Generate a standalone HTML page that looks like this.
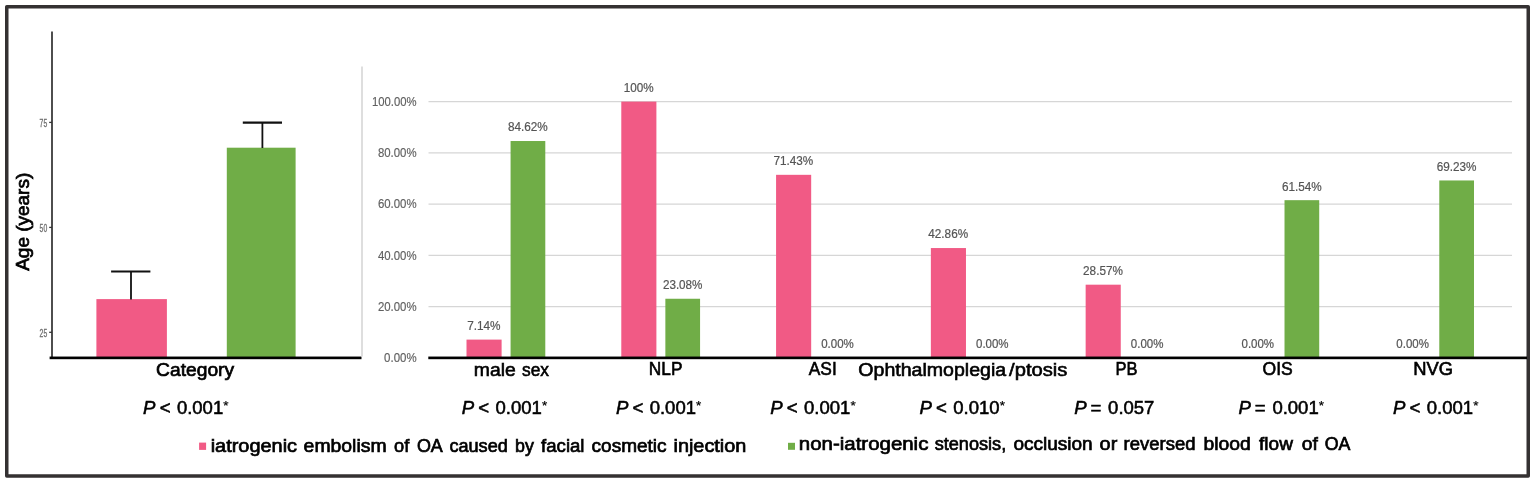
<!DOCTYPE html><html><head><meta charset="utf-8"><title>Figure</title><style>
html,body{margin:0;padding:0;background:#fff;}body{width:1535px;height:483px;overflow:hidden;font-family:"Liberation Sans",sans-serif;}svg{display:block;}
.ax{font-family:"Liberation Sans",sans-serif;font-size:12.3px;fill:#606060;stroke:#606060;stroke-width:.15px;}
.dl{font-family:"Liberation Sans",sans-serif;font-size:12.2px;fill:#555;stroke:#555;stroke-width:.2px;}
.xl{font-family:"Liberation Sans",sans-serif;fill:#000;stroke:#000;stroke-width:.6px;}
.pv{font-family:"Liberation Sans",sans-serif;font-size:18.6px;fill:#000;stroke:#000;stroke-width:.55px;}
.lg{font-family:"Liberation Sans",sans-serif;font-size:18.7px;fill:#000;stroke:#000;stroke-width:.7px;}
.tk{font-family:"Liberation Sans",sans-serif;font-size:10.5px;fill:#6e6e6e;stroke:#6e6e6e;stroke-width:.3px;}
</style></head><body>
<svg width="1535" height="483" viewBox="0 0 1535 483">
<rect x="0" y="0" width="1535" height="483" fill="#fff"/>
<rect x="6.75" y="6.75" width="1521.5" height="469.2" fill="none" stroke="#343132" stroke-width="3.5" stroke-linejoin="round"/>
<line x1="52" y1="31.6" x2="52" y2="357" stroke="#3a3a3a" stroke-width="1.8"/>
<line x1="49.2" y1="122.4" x2="52" y2="122.4" stroke="#333" stroke-width="1.3"/>
<text class="tk" x="39.6" y="126.7" textLength="7.6" lengthAdjust="spacingAndGlyphs">75</text>
<line x1="49.2" y1="227.4" x2="52" y2="227.4" stroke="#333" stroke-width="1.3"/>
<text class="tk" x="39.6" y="231.7" textLength="7.6" lengthAdjust="spacingAndGlyphs">50</text>
<line x1="49.2" y1="332.3" x2="52" y2="332.3" stroke="#333" stroke-width="1.3"/>
<text class="tk" x="39.6" y="336.6" textLength="7.6" lengthAdjust="spacingAndGlyphs">25</text>
<rect x="96.4" y="299.1" width="70.5" height="58" fill="#F15A85"/>
<rect x="226.8" y="147.7" width="68.8" height="209.5" fill="#70AD47"/>
<line x1="131" y1="271.5" x2="131" y2="299.5" stroke="#111" stroke-width="1.8"/>
<line x1="111.1" y1="271.5" x2="150.4" y2="271.5" stroke="#111" stroke-width="2.2"/>
<line x1="262.4" y1="122.7" x2="262.4" y2="148" stroke="#111" stroke-width="1.8"/>
<line x1="242.8" y1="122.7" x2="282" y2="122.7" stroke="#111" stroke-width="2.2"/>
<rect x="49.6" y="356.55" width="311.9" height="2.65" fill="#000"/>
<text x="156.1" y="375.6" textLength="78" lengthAdjust="spacingAndGlyphs" style="font-family:'Liberation Sans',sans-serif;font-size:18.4px;fill:#000;stroke:#000;stroke-width:.7px">Category</text>
<text transform="translate(29.3,270.8) rotate(-90)" textLength="98" lengthAdjust="spacingAndGlyphs" style="font-family:'Liberation Sans',sans-serif;font-size:17.7px;fill:#000;stroke:#000;stroke-width:.7px">Age (years)</text>
<text class="pv" y="413.6"><tspan x="143.1" font-style="italic">P</tspan> <tspan x="159.7">&lt;</tspan> <tspan x="176.9" textLength="46.3" lengthAdjust="spacingAndGlyphs">0.001</tspan><tspan x="223.3" dy="-4.1" font-size="13.5px" stroke-width=".2">*</tspan></text>
<line x1="362" y1="66.6" x2="362" y2="356.4" stroke="#d9d9d9" stroke-width="1.7"/>
<line x1="428.5" y1="101.60" x2="1512.0" y2="101.60" stroke="#d6d6d6" stroke-width="1.25"/>
<line x1="428.5" y1="152.86" x2="1512.0" y2="152.86" stroke="#d6d6d6" stroke-width="1.25"/>
<line x1="428.5" y1="204.12" x2="1512.0" y2="204.12" stroke="#d6d6d6" stroke-width="1.25"/>
<line x1="428.5" y1="255.38" x2="1512.0" y2="255.38" stroke="#d6d6d6" stroke-width="1.25"/>
<line x1="428.5" y1="306.64" x2="1512.0" y2="306.64" stroke="#d6d6d6" stroke-width="1.25"/>
<text class="ax" x="372.0" y="105.7" textLength="44.6" lengthAdjust="spacingAndGlyphs">100.00%</text>
<text class="ax" x="377.9" y="157.0" textLength="38.7" lengthAdjust="spacingAndGlyphs">80.00%</text>
<text class="ax" x="377.9" y="208.2" textLength="38.7" lengthAdjust="spacingAndGlyphs">60.00%</text>
<text class="ax" x="377.9" y="259.5" textLength="38.7" lengthAdjust="spacingAndGlyphs">40.00%</text>
<text class="ax" x="377.9" y="310.7" textLength="38.7" lengthAdjust="spacingAndGlyphs">20.00%</text>
<text class="ax" x="384.1" y="362.0" textLength="32.5" lengthAdjust="spacingAndGlyphs">0.00%</text>
<rect x="466.50" y="339.60" width="35.11" height="18.30" fill="#F15A85"/>
<rect x="510.58" y="141.02" width="34.71" height="216.88" fill="#70AD47"/>
<text class="dl" x="467.2" y="329.9" textLength="33.4" lengthAdjust="spacingAndGlyphs">7.14%</text>
<text class="dl" x="508.0" y="131.3" textLength="39.8" lengthAdjust="spacingAndGlyphs">84.62%</text>
<rect x="621.29" y="101.60" width="35.11" height="256.30" fill="#F15A85"/>
<rect x="665.36" y="298.75" width="34.71" height="59.15" fill="#70AD47"/>
<text class="dl" x="623.7" y="91.9" textLength="29.9" lengthAdjust="spacingAndGlyphs">100%</text>
<text class="dl" x="662.9" y="289.0" textLength="39.6" lengthAdjust="spacingAndGlyphs">23.08%</text>
<rect x="776.07" y="174.82" width="35.11" height="183.08" fill="#F15A85"/>
<text class="dl" x="773.5" y="165.1" textLength="39.8" lengthAdjust="spacingAndGlyphs">71.43%</text>
<text class="dl" x="821.2" y="348.2" textLength="32.6" lengthAdjust="spacingAndGlyphs">0.00%</text>
<rect x="930.86" y="248.05" width="35.11" height="109.85" fill="#F15A85"/>
<text class="dl" x="928.3" y="238.3" textLength="39.8" lengthAdjust="spacingAndGlyphs">42.86%</text>
<text class="dl" x="976.0" y="348.2" textLength="32.6" lengthAdjust="spacingAndGlyphs">0.00%</text>
<rect x="1085.65" y="284.68" width="35.11" height="73.22" fill="#F15A85"/>
<text class="dl" x="1083.1" y="275.0" textLength="39.8" lengthAdjust="spacingAndGlyphs">28.57%</text>
<text class="dl" x="1130.8" y="348.2" textLength="32.6" lengthAdjust="spacingAndGlyphs">0.00%</text>
<rect x="1284.51" y="200.17" width="34.71" height="157.73" fill="#70AD47"/>
<text class="dl" x="1241.5" y="348.2" textLength="32.6" lengthAdjust="spacingAndGlyphs">0.00%</text>
<text class="dl" x="1282.0" y="190.5" textLength="39.8" lengthAdjust="spacingAndGlyphs">61.54%</text>
<rect x="1439.29" y="180.46" width="34.71" height="177.44" fill="#70AD47"/>
<text class="dl" x="1396.3" y="348.2" textLength="32.6" lengthAdjust="spacingAndGlyphs">0.00%</text>
<text class="dl" x="1436.7" y="170.8" textLength="39.8" lengthAdjust="spacingAndGlyphs">69.23%</text>
<rect x="428.3" y="356.55" width="1098.7" height="2.65" fill="#000"/>
<text class="xl" font-size="18px" y="375.6"><tspan x="473.80" textLength="41.90" lengthAdjust="spacingAndGlyphs">male</tspan> <tspan x="522.00" textLength="27.00" lengthAdjust="spacingAndGlyphs">sex</tspan></text>
<text class="xl" x="648.8000000000001" y="375.25" font-size="18.0px" textLength="33.6" lengthAdjust="spacingAndGlyphs">NLP</text>
<text class="xl" x="808.8000000000001" y="375.25" font-size="18.0px" textLength="27.9" lengthAdjust="spacingAndGlyphs">ASI</text>
<text class="xl" font-size="18px" y="375.6"><tspan x="858.30" textLength="147.90" lengthAdjust="spacingAndGlyphs">Ophthalmoplegia</tspan><tspan x="1009.10" textLength="58.30" lengthAdjust="spacingAndGlyphs">/ptosis</tspan></text>
<text class="xl" x="1115.5" y="375.25" font-size="18.0px" textLength="22.0" lengthAdjust="spacingAndGlyphs">PB</text>
<text class="xl" x="1262.6000000000001" y="375.25" font-size="18.0px" textLength="30.2" lengthAdjust="spacingAndGlyphs">OIS</text>
<text class="xl" x="1413.3" y="375.25" font-size="18.0px" textLength="39.8" lengthAdjust="spacingAndGlyphs">NVG</text>
<text class="pv" y="413.6"><tspan x="461.7" font-style="italic">P</tspan> <tspan x="478.3">&lt;</tspan> <tspan x="495.5" textLength="46.3" lengthAdjust="spacingAndGlyphs">0.001</tspan><tspan x="541.9" dy="-4.1" font-size="13.5px" stroke-width=".2">*</tspan></text>
<text class="pv" y="413.6"><tspan x="615.9" font-style="italic">P</tspan> <tspan x="632.5">&lt;</tspan> <tspan x="649.7" textLength="46.3" lengthAdjust="spacingAndGlyphs">0.001</tspan><tspan x="696.1" dy="-4.1" font-size="13.5px" stroke-width=".2">*</tspan></text>
<text class="pv" y="413.6"><tspan x="770.2" font-style="italic">P</tspan> <tspan x="786.8">&lt;</tspan> <tspan x="804.0" textLength="46.3" lengthAdjust="spacingAndGlyphs">0.001</tspan><tspan x="850.4" dy="-4.1" font-size="13.5px" stroke-width=".2">*</tspan></text>
<text class="pv" y="413.6"><tspan x="919.5" font-style="italic">P</tspan> <tspan x="936.1">&lt;</tspan> <tspan x="953.3" textLength="46.3" lengthAdjust="spacingAndGlyphs">0.010</tspan><tspan x="999.7" dy="-4.1" font-size="13.5px" stroke-width=".2">*</tspan></text>
<text class="pv" y="413.6"><tspan x="1074.3" font-style="italic">P</tspan> <tspan x="1090.5">=</tspan> <tspan x="1108.1" textLength="46.3" lengthAdjust="spacingAndGlyphs">0.057</tspan></text>
<text class="pv" y="413.6"><tspan x="1238.6" font-style="italic">P</tspan> <tspan x="1254.8">=</tspan> <tspan x="1272.4" textLength="46.3" lengthAdjust="spacingAndGlyphs">0.001</tspan><tspan x="1318.8" dy="-4.1" font-size="13.5px" stroke-width=".2">*</tspan></text>
<text class="pv" y="413.6"><tspan x="1393.0" font-style="italic">P</tspan> <tspan x="1409.6">&lt;</tspan> <tspan x="1426.8" textLength="46.3" lengthAdjust="spacingAndGlyphs">0.001</tspan><tspan x="1473.2" dy="-4.1" font-size="13.5px" stroke-width=".2">*</tspan></text>
<rect x="199.1" y="442.6" width="7" height="7.3" fill="#F15A85"/>
<text class="lg" y="452.1"><tspan x="210.70" textLength="86.40" lengthAdjust="spacingAndGlyphs">iatrogenic</tspan> <tspan x="303.60" textLength="83.00" lengthAdjust="spacingAndGlyphs">embolism</tspan> <tspan x="394.10" textLength="15.20" lengthAdjust="spacingAndGlyphs">of</tspan> <tspan x="416.90" textLength="24.90" lengthAdjust="spacingAndGlyphs">OA</tspan> <tspan x="449.40" textLength="58.40" lengthAdjust="spacingAndGlyphs">caused</tspan> <tspan x="515.00" textLength="18.80" lengthAdjust="spacingAndGlyphs">by</tspan> <tspan x="541.10" textLength="43.40" lengthAdjust="spacingAndGlyphs">facial</tspan> <tspan x="591.60" textLength="75.00" lengthAdjust="spacingAndGlyphs">cosmetic</tspan> <tspan x="673.50" textLength="72.90" lengthAdjust="spacingAndGlyphs">injection</tspan></text>
<rect x="788" y="442.8" width="7" height="7" fill="#70AD47"/>
<text class="lg" y="450.2"><tspan x="798.80" textLength="129.60" lengthAdjust="spacingAndGlyphs">non-iatrogenic</tspan> <tspan x="934.70" textLength="71.50" lengthAdjust="spacingAndGlyphs">stenosis,</tspan> <tspan x="1013.50" textLength="79.20" lengthAdjust="spacingAndGlyphs">occlusion</tspan> <tspan x="1099.60" textLength="17.70" lengthAdjust="spacingAndGlyphs">or</tspan> <tspan x="1123.60" textLength="71.90" lengthAdjust="spacingAndGlyphs">reversed</tspan> <tspan x="1203.40" textLength="47.30" lengthAdjust="spacingAndGlyphs">blood</tspan> <tspan x="1259.10" textLength="33.80" lengthAdjust="spacingAndGlyphs">flow</tspan> <tspan x="1301.80" textLength="16.10" lengthAdjust="spacingAndGlyphs">of</tspan> <tspan x="1324.70" textLength="25.70" lengthAdjust="spacingAndGlyphs">OA</tspan></text>
</svg></body></html>
